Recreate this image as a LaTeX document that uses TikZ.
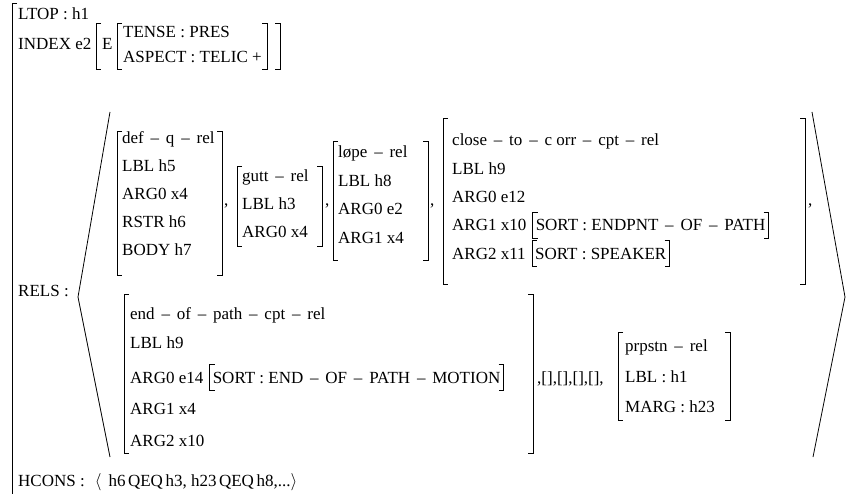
\documentclass[tikz,border=0pt]{standalone}
\usepackage{fontspec}
\setmainfont{Liberation Serif}
\newcommand{\dsh}{\hspace{.4em}–\hspace{.4em}}
\newcommand{\cln}{\hspace{.25em}:\hspace{.25em}}
\newcommand{\sortbrk}[1]{%
  \draw[brk] ([xshift=2pt,yshift=7pt]#1.north west) -- ++(-5,0) |- ([xshift=2pt,yshift=-7pt]#1.south west);
  \draw[brk] ([xshift=-2pt,yshift=7pt]#1.north east) -- ++(5,0) |- ([xshift=-2pt,yshift=-7pt]#1.south east);}

\begin{document}
\begin{tikzpicture}
  [x=1pt,y=-1pt,
   txt/.style={anchor=base west,inner sep=0pt,font=\fontsize{17pt}{20pt}\selectfont},
   brk/.style={line width=0.8pt}]
  \useasboundingbox (0,0) rectangle (848,494);
  % top level features
  \node[txt] (ltop) at (18,20) {LTOP\cln h1};
  \node[txt] (index) at (18,50) {INDEX e2};
  \node[txt] (idxe) at (102,50) {E};
  \node[txt] (tense) at (123,38) {TENSE\cln PRES};
  \node[txt] (aspect) at (123,63) {ASPECT\cln TELIC\hspace{.25em}+};
  \node[txt] (rels) at (18,296) {RELS\hspace{.25em}:};
  \node[txt] (hcons) at (18,486) {HCONS\hspace{.25em}:\hspace{.6em}$\langle$\hspace{.4em}h6\hspace{.15em}QEQ\hspace{.15em}h3,
    h23\hspace{.15em}QEQ\hspace{.15em}h8,...$\rangle$};
  % first row of relations
  \foreach \t [count=\i] in {def\dsh q\dsh rel, LBL h5, ARG0 x4, RSTR h6, BODY h7}
    \node[txt] (q\i) at (122,116+28*\i) {\t};
  \foreach \t [count=\i] in {gutt\dsh rel, LBL h3, ARG0 x4}
    \node[txt] (g\i) at (242,154+28*\i) {\t};
  \foreach \t [count=\i] in {løpe\dsh rel, LBL h8, ARG0 e2, ARG1 x4}
    \node[txt] (l\i) at (338,129.5+28.5*\i) {\t};
  \foreach \t [count=\i] in {close\dsh to\dsh c orr\dsh cpt\dsh rel, LBL h9, ARG0 e12, ARG1 x10, ARG2 x11}
    \node[txt] (c\i) at (452,117.5+28.3*\i) {\t};
  \node[txt] (sortc4) at ([xshift=9pt]c4.base east) {SORT\cln ENDPNT\dsh OF\dsh PATH};
  \node[txt] (sortc5) at ([xshift=9pt]c5.base east) {SORT\cln SPEAKER};
  \foreach \x [count=\i] in {224,325,430,808}
    \node[txt] (cm\i) at (\x,206) {,};
  % second row of relations
  \node[txt] (e1) at (130,319) {end\dsh of\dsh path\dsh cpt\dsh rel};
  \node[txt] (e2) at (130,348) {LBL h9};
  \node[txt] (e3) at (130,383) {ARG0 e14};
  \node[txt] (sorte3) at ([xshift=9pt]e3.base east) {SORT\cln END\dsh OF\dsh PATH\dsh MOTION};
  \node[txt] (e4) at (130,414) {ARG1 x4};
  \node[txt] (e5) at (130,446) {ARG2 x10};
  \node[txt] (empty) at (537,383) {,[],[],[],[],};
  \foreach \t [count=\i] in {prpstn\dsh rel, {LBL\cln h1}, {MARG\cln h23}}
    \node[txt] (p\i) at (625,321+30.5*\i) {\t};
  % brackets
  \draw[brk] (17,3) -- (12,3) -- (12,494);
  \foreach \x/\ya/\yb in {96/23/69, 117/23/69, 117/131/275, 237/166/246, 333/141/260,
      443/118/284, 124/294/453, 618/332/420}
    \draw[brk] (\x+5,\ya) -- (\x,\ya) -- (\x,\yb) -- (\x+5,\yb);
  \foreach \x/\ya/\yb in {267/23/69, 280/23/69, 222/131/275, 322/166/246, 428/141/260,
      805/118/284, 533/294/453, 730/332/420}
    \draw[brk] (\x-5,\ya) -- (\x,\ya) -- (\x,\yb) -- (\x-5,\yb);
  \sortbrk{sortc4}
  \sortbrk{sortc5}
  \sortbrk{sorte3}
  % list brackets
  \draw[brk] (110,112) -- (78,297) -- (110,457);
  \draw[brk] (812,112) -- (845,297) -- (813,457);
\end{tikzpicture}
\end{document}
